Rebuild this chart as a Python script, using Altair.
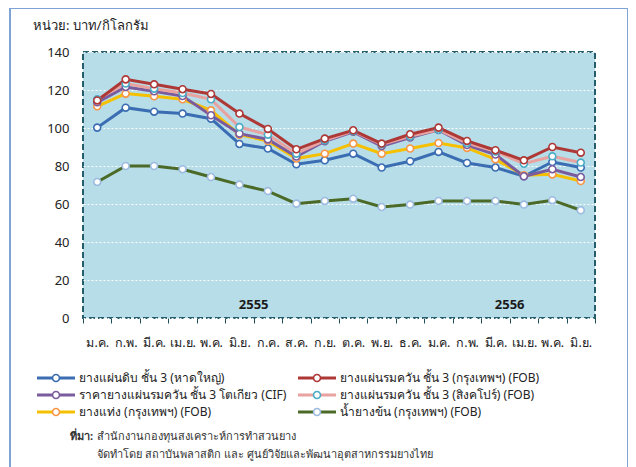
import altair as alt
import pandas as pd

# ---------------- data ----------------
months = ["ม.ค.", "ก.พ.", "มี.ค.", "เม.ย.", "พ.ค.", "มิ.ย.", "ก.ค.", "ส.ค.", "ก.ย.",
          "ต.ค.", "พ.ย.", "ธ.ค.", "ม.ค.", "ก.พ.", "มี.ค.", "เม.ย.", "พ.ค.", "มิ.ย."]
years = ["2555"] * 12 + ["2556"] * 6

series_names = [
    "ยางแผ่นดิบ ชั้น 3 (หาดใหญ่)",
    "ยางแผ่นรมควัน ชั้น 3 (กรุงเทพฯ) (FOB)",
    "ราคายางแผ่นรมควัน ชั้น 3 โตเกียว (CIF)",
    "ยางแผ่นรมควัน ชั้น 3 (สิงคโปร์) (FOB)",
    "ยางแท่ง (กรุงเทพฯ) (FOB)",
    "น้ำยางข้น (กรุงเทพฯ) (FOB)",
]

rss_hatyai = [100.2, 110.7, 108.6, 107.6, 104.9, 91.6, 89.2, 80.9, 83.0, 86.5, 79.2, 82.5,
              87.4, 81.6, 79.2, 74.6, 82.1, 79.2]
rss3_bkk = [114.5, 125.6, 123.0, 120.4, 117.9, 107.6, 99.5, 88.8, 94.4, 98.8, 91.8, 96.7,
            100.2, 93.2, 88.3, 83.0, 90.0, 87.0]
rss3_tokyo = [113.5, 121.6, 119.3, 116.8, 106.7, 97.0, 94.0, 85.0, 93.0, 98.0, 90.5, 95.0,
              99.0, 91.0, 86.0, 74.6, 78.3, 74.2]
rss3_sing = [115.1, 123.4, 120.7, 118.4, 115.1, 100.5, 96.5, 86.5, 93.5, 98.4, 91.4, 95.6,
             99.1, 92.1, 87.7, 81.2, 85.1, 81.8]
str20_bkk = [111.4, 118.1, 116.7, 115.1, 109.3, 96.5, 93.2, 83.9, 86.5, 91.8, 86.5, 89.2,
             92.1, 89.5, 83.5, 75.1, 75.6, 72.1]
latex_bkk = [71.6, 80.0, 80.0, 78.3, 74.2, 70.2, 66.8, 60.2, 61.6, 62.8, 58.4, 59.7,
             61.6, 61.6, 61.6, 59.7, 62.0, 56.7]

series_values = [rss_hatyai, rss3_bkk, rss3_tokyo, rss3_sing, str20_bkk, latex_bkk]

line_colors = ["#3b6db3", "#ad3836", "#7a5c9e", "#e8a2a0", "#f5c000", "#4c6a27"]
marker_colors = ["#3b6db3", "#ad3836", "#7a5c9e", "#4bacc6", "#f79646", "#9dbbe0"]
draw_order = [5, 0, 4, 2, 3, 1]

year_labels = ["2555", "2556"]
year_at = ["ก.ค. 2555", "เม.ย. 2556"]

y_ticks = [0, 20, 40, 60, 80, 100, 120, 140]

unit_text = "หน่วย: บาท/กิโลกรัม"
source_head = "ที่มา:"
source_line1 = "สำนักงานกองทุนสงเคราะห์การทำสวนยาง"
source_line2 = "จัดทำโดย สถาบันพลาสติก และ ศูนย์วิจัยและพัฒนาอุตสาหกรรมยางไทย"

FONT = "Noto Sans"

# ---------------- tables ----------------
keys = [f"{m} {y}" for m, y in zip(months, years)]
rows = []
for rank, si in enumerate(draw_order):
    for k, v in zip(keys, series_values[si]):
        rows.append({"key": k, "series": series_names[si], "value": v, "rank": rank})
df = pd.DataFrame(rows)
year_df = pd.DataFrame({"key": year_at, "label": year_labels, "ypos": [7, 7]})

color_scale = alt.Scale(domain=series_names, range=line_colors)
stroke_scale = alt.Scale(domain=series_names, range=marker_colors)

x_scale = alt.Scale(type="band", paddingInner=0, paddingOuter=0)
y_scale = alt.Scale(domain=[0, 140], nice=False)

x_axis = alt.Axis(labelExpr="split(datum.label, ' ')[0]",
                  labelAngle=0, domain=False, ticks=True,
                  tickBand="extent", tickSize=5, tickColor="#1f4e5a", tickWidth=1, tickOpacity=1,
                  labelPadding=13, labelFontSize=12.5, labelColor="#222222", labelFont=FONT)
y_axis = alt.Axis(values=y_ticks, tickCount=8, domain=False, ticks=False,
                  labelOverlap=False, labelFlush=False,
                  labelPadding=14, labelFontSize=13, labelColor="#222222", labelFont=FONT,
                  grid=True, gridColor="white", gridDash=[2, 2], gridWidth=1.2, gridOpacity=0.95)

lines = alt.Chart(df).mark_line(strokeWidth=3).encode(
    x=alt.X("key:N", sort=keys, title=None, scale=x_scale, axis=x_axis),
    y=alt.Y("value:Q", title=None, scale=y_scale, axis=y_axis),
    color=alt.Color("series:N", scale=color_scale, legend=None),
    order=alt.Order("rank:Q"),
    detail="rank:N",
)
points = alt.Chart(df).mark_point(shape="circle", size=48, fill="white", fillOpacity=1,
                                  strokeWidth=1.6, opacity=1).encode(
    x=alt.X("key:N", sort=keys, title=None, scale=x_scale, axis=x_axis),
    y=alt.Y("value:Q", title=None, scale=y_scale, axis=y_axis),
    stroke=alt.Stroke("series:N", scale=stroke_scale, legend=None),
    order=alt.Order("rank:Q"),
)
years_txt = alt.Chart(year_df).mark_text(fontSize=13, fontWeight="bold", color="#1a1a1a",
                                         font=FONT, baseline="middle").encode(
    x=alt.X("key:N", sort=keys, bandPosition=0, title=None, scale=x_scale, axis=x_axis),
    y=alt.Y("ypos:Q", title=None, scale=y_scale, axis=y_axis),
    text="label:N",
)

# legend (manual, two columns)
leg_x = [-27, 234]      # symbol centre of each legend column
leg_y = [326, 343, 360]  # row centres
one = pd.DataFrame({"t": [0]})
legend_layers = []
for i, name in enumerate(series_names):
    cx, cy = leg_x[i % 2], leg_y[i // 2]
    legend_layers.append(alt.Chart(one).mark_rule(color=line_colors[i], strokeWidth=3).encode(
        x=alt.value(cx - 19), x2=alt.value(cx + 19), y=alt.value(cy)))
    legend_layers.append(alt.Chart(one).mark_point(shape="circle", size=48, fill="white", fillOpacity=1,
                                                   stroke=marker_colors[i], strokeWidth=1.6, opacity=1).encode(
        x=alt.value(cx), y=alt.value(cy)))
    legend_layers.append(alt.Chart(one).mark_text(align="left", baseline="middle", fontSize=12,
                                                  color="#222222", font=FONT, text=name).encode(
        x=alt.value(cx + 23), y=alt.value(cy)))

frame = alt.Chart(one).mark_rect(fill=None, stroke="#7ea3d4", strokeWidth=2).encode(
    x=alt.value(-73), x2=alt.value(545), y=alt.value(-44), y2=alt.value(420))
unit = alt.Chart(one).mark_text(align="left", baseline="alphabetic", fontSize=13,
                                color="#222222", font=FONT, text=unit_text).encode(
    x=alt.value(-50), y=alt.value(-22))
src_head = alt.Chart(one).mark_text(align="left", baseline="middle", fontSize=11, fontWeight="bold",
                                    color="#333333", font=FONT, text=source_head).encode(
    x=alt.value(-13), y=alt.value(385))
src1 = alt.Chart(one).mark_text(align="left", baseline="middle", fontSize=11,
                                color="#333333", font=FONT, text=source_line1).encode(
    x=alt.value(14), y=alt.value(385))
src2 = alt.Chart(one).mark_text(align="left", baseline="middle", fontSize=11,
                                color="#333333", font=FONT, text=source_line2).encode(
    x=alt.value(14), y=alt.value(403))

chart = alt.layer(lines, points, years_txt, frame, unit, src_head, src1, src2, *legend_layers).properties(
    width=512, height=266,
    background="white",
    padding={"left": 75, "top": 44, "right": 33, "bottom": 149},
    autosize=alt.AutoSizeParams(type="none"),
).configure_view(
    fill="#b7dde8", stroke="#245d6b", strokeDash=[6, 3], strokeWidth=2
)

chart.save("out.html", embed_options={"renderer": "svg", "actions": False})
